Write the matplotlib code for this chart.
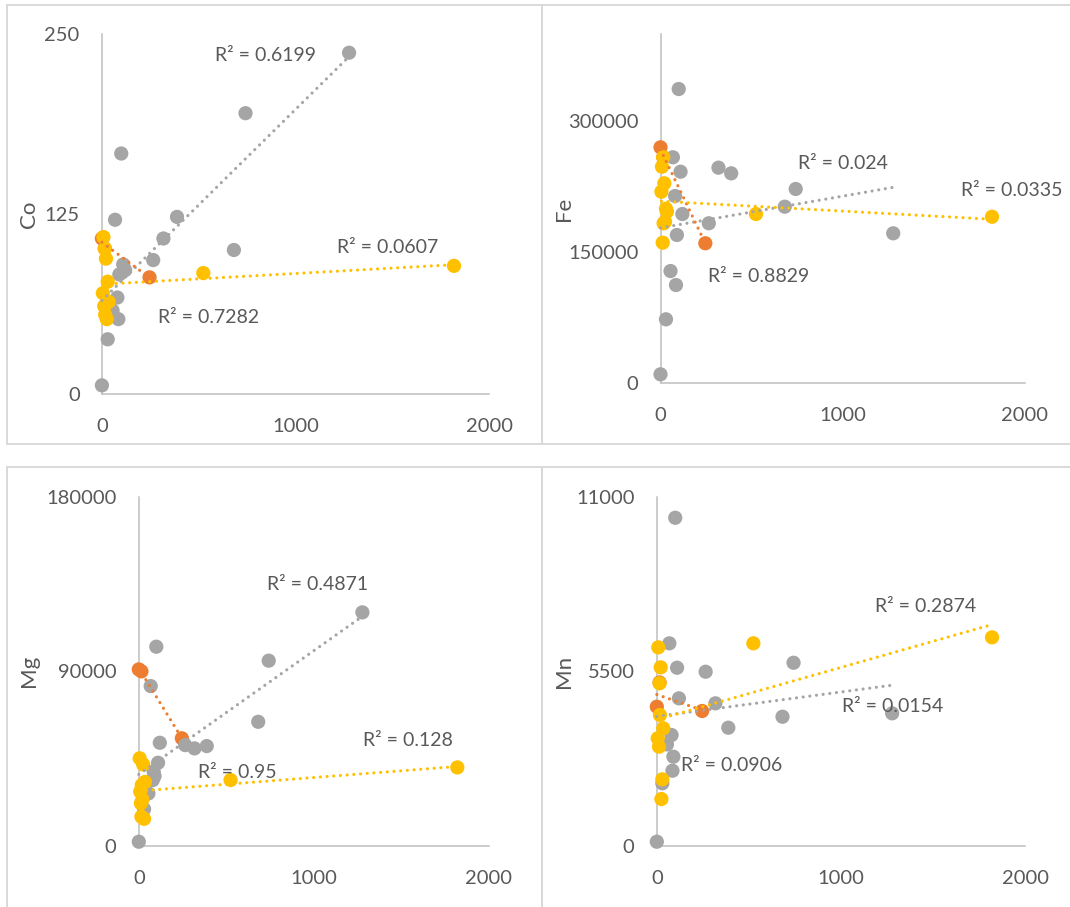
import numpy as np
import matplotlib
matplotlib.use("Agg")
import matplotlib.pyplot as plt
from matplotlib.patches import Rectangle

# ---------------------------------------------------------------------------
# Data: three sample groups plotted against the same x variable
# ---------------------------------------------------------------------------
gray_x = [0, 30, 55, 68, 80, 85, 90, 100, 110, 120, 265, 318, 388, 682, 742, 1277]
orange_x = [0, 15, 246]
yellow_x = [5, 8, 12, 15, 17, 21, 25, 30, 35, 524, 1819]

co_gray = [6, 38, 58, 121, 67, 52, 83, 167, 90, 86, 93, 108, 123, 100, 195, 237]
co_orange = [108, 101, 81]
co_yellow = [70, 109, 61, 101, 55, 94, 52, 78, 64, 84, 89]

fe_gray = [10300, 73300, 128600, 258900, 214500, 112600, 169900, 337100,
           242400, 193900, 183300, 247000, 240500, 202300, 222600, 171800]
fe_orange = [270300, 258900, 160400]
fe_yellow = [219500, 248100, 161100, 258900, 183300, 229100, 185000, 200000,
             196600, 193900, 190800]

mg_gray = [2200, 19000, 27100, 82400, 34000, 38300, 36000, 102700,
           42900, 53200, 52000, 50300, 51500, 64000, 95500, 120400]
mg_orange = [91000, 90000, 55500]
mg_yellow = [45200, 28000, 22000, 15100, 31400, 24000, 42000, 14000,
             33000, 34000, 40500]

mn_gray = [135, 1974, 3200, 6382, 3495, 2371, 2812, 10337,
           5614, 4650, 5488, 4493, 3725, 4071, 5771, 4178]
mn_orange = [4386, 5150, 4251]
mn_yellow = [3391, 6256, 3127, 5123, 4125, 5627, 1480, 2100, 3706, 6382, 6571]

x_ticks = [0, 1000, 2000]
co_ticks = [0, 125, 250]
fe_ticks = [0, 150000, 300000]
mg_ticks = [0, 90000, 180000]
mn_ticks = [0, 5500, 11000]

co_r2 = ["R² = 0.6199", "R² = 0.7282", "R² = 0.0607"]
fe_r2 = ["R² = 0.024", "R² = 0.8829", "R² = 0.0335"]
mg_r2 = ["R² = 0.4871", "R² = 0.95", "R² = 0.128"]
mn_r2 = ["R² = 0.0154", "R² = 0.0906", "R² = 0.2874"]

# ---------------------------------------------------------------------------
# Styling
# ---------------------------------------------------------------------------
plt.rcParams['font.family'] = ['Lato', 'DejaVu Sans']
GRAY, ORANGE, YELLOW = '#A5A5A5', '#ED7D31', '#FFC000'
TEXT = '#595959'
AXIS = '#BFBFBF'
FRAME = '#D9D9D9'

W, H = 1070, 907
fig = plt.figure(figsize=(W / 100, H / 100), dpi=100)


def px_rect(left, top, right, bottom):
    """Figure-fraction rectangle from pixel edges (origin top-left)."""
    return [left / W, 1 - bottom / H, (right - left) / W, (bottom - top) / H]


# panel frames
for left, top, right, bottom in [(7, 5, 542, 444), (542, 5, 1076, 444),
                                 (7, 467, 542, 913), (542, 467, 1076, 913)]:
    l, b, w, h = px_rect(left, top, right, bottom)
    fig.add_artist(Rectangle((l, b), w, h, transform=fig.transFigure,
                             fill=False, edgecolor=FRAME, linewidth=1.4))

panels = [
    dict(name="Co", rect=(101.9, 34, 489, 394), ymax=250, yticks=co_ticks,
         ys=(co_gray, co_orange, co_yellow), r2=co_r2,
         r2_pos=[(843, 235), (553, 53), (1478, 102)], label_px=(29, 214)),
    dict(name="Fe", rect=(660.5, 34.1, 1025, 383.3), ymax=400000, yticks=fe_ticks,
         ys=(fe_gray, fe_orange, fe_yellow), r2=fe_r2,
         r2_pos=[(1001, 252000), (540, 121800), (1929, 221400)], label_px=(564, 209)),
    dict(name="Mg", rect=(138.8, 496.7, 489, 846), ymax=180000, yticks=mg_ticks,
         ys=(mg_gray, mg_orange, mg_yellow), r2=mg_r2,
         r2_pos=[(1023, 134500), (561, 37800), (1537, 54600)], label_px=(29, 671)),
    dict(name="Mn", rect=(656.8, 496.7, 1025.4, 846), ymax=11000, yticks=mn_ticks,
         ys=(mn_gray, mn_orange, mn_yellow), r2=mn_r2,
         r2_pos=[(1282, 4408), (406, 2550), (1461, 7535)], label_px=(564, 671)),
]

groups = [(gray_x, GRAY, 2), (orange_x, ORANGE, 1), (yellow_x, YELLOW, 3)]

for p in panels:
    ax = fig.add_axes(px_rect(*p["rect"]))
    ax.set_xlim(0, 2000)
    ax.set_ylim(0, p["ymax"])
    ax.patch.set_alpha(0)

    for (xs, color, z), ys in zip(groups, p["ys"]):
        xs = np.asarray(xs, float)
        ys = np.asarray(ys, float)
        ax.scatter(xs, ys, s=105, color=color, edgecolors='none',
                   zorder=z, clip_on=False)

    # linear trendlines, drawn over all markers
    for (xs, color, _), ys in zip(groups, p["ys"]):
        xs = np.asarray(xs, float)
        ys = np.asarray(ys, float)
        k, b = np.polyfit(xs, ys, 1)
        xx = np.array([xs.min(), xs.max()])
        ax.plot(xx, k * xx + b, color=color, lw=2.3,
                linestyle=(0, (0.001, 2.1)), dash_capstyle='round',
                zorder=5, clip_on=False)

    for text, (tx, ty) in zip(p["r2"], p["r2_pos"]):
        ax.text(tx, ty, text, ha='center', va='center', fontsize=14,
                color=TEXT, zorder=6, clip_on=False)

    ax.set_xticks(x_ticks)
    ax.set_xticklabels([str(v) for v in x_ticks])
    ax.set_yticks(p["yticks"])
    ax.set_yticklabels([str(v) for v in p["yticks"]])
    ax.tick_params(length=0, labelsize=14.5, labelcolor=TEXT)
    ax.tick_params(axis='x', pad=17)
    ax.tick_params(axis='y', pad=16)
    for side in ("top", "right"):
        ax.spines[side].set_visible(False)
    for side in ("left", "bottom"):
        ax.spines[side].set_color(AXIS)
        ax.spines[side].set_linewidth(1.1)
        ax.spines[side].set_zorder(0.5)

    lx, ly = p["label_px"]
    fig.text(lx / W, 1 - ly / H, p["name"], rotation=90, ha='center',
             va='center', fontsize=16, color=TEXT)

fig.savefig("out.png", dpi=100)
